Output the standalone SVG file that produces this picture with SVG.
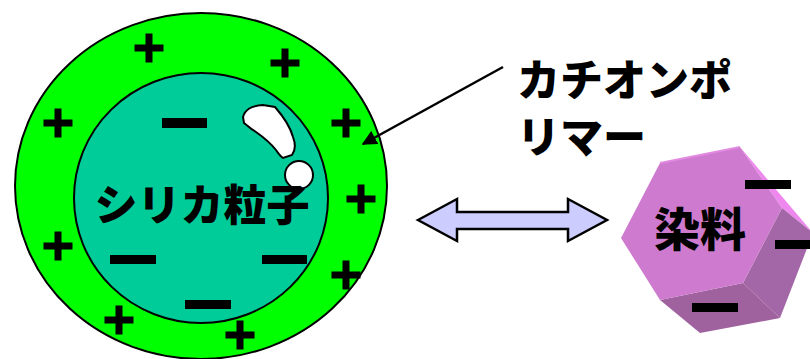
<svg xmlns="http://www.w3.org/2000/svg" width="810" height="359" viewBox="0 0 810 359">
  <defs>
    <style>
      .jp { font-family: "Noto Sans CJK JP", "Noto Sans", sans-serif; font-weight: 900; fill: #000; dominant-baseline: central; }
      .bar { fill: #000; }
      .plus { stroke: #000; stroke-width: 7; fill: none; }
    </style>
    <marker id="head" viewBox="0 0 10 10" refX="9" refY="5" markerWidth="6" markerHeight="6" orient="auto" markerUnits="strokeWidth">
      <path d="M0,0 L10,5 L0,10 z" fill="#000"/>
    </marker>
    <g id="p">
      <path class="plus" d="M-14.5,0 H14.5 M0,-14.5 V14.5"/>
    </g>
  </defs>

  <rect width="810" height="359" fill="#fff"/>

  <!-- silica particle with cationic polymer shell -->
  <g id="silica">
    <ellipse cx="201" cy="186" rx="186" ry="173" fill="#00FF00" stroke="#000" stroke-width="2"/>
    <ellipse cx="201" cy="198" rx="127" ry="125" fill="#00CC99" stroke="#000" stroke-width="2"/>
    <path d="M243,117 C245,110 250,106 263,105 L275,107 C282,115 290,126 293,137 C296,145 295,151 292,155 L283,158 C280,156 278,153 276,150 C272,145 266,139 256,132 C251,129 249,127 249,127 L244,123 Z" fill="#fff" stroke="#000" stroke-width="2"/>
    <circle cx="299" cy="175" r="14" fill="#fff" stroke="#000" stroke-width="2"/>
    <!-- positive charges on shell -->
    <use href="#p" x="149" y="48"/>
    <use href="#p" x="285" y="63"/>
    <use href="#p" x="58" y="123"/>
    <use href="#p" x="346" y="123"/>
    <use href="#p" x="361" y="199"/>
    <use href="#p" x="58" y="246"/>
    <use href="#p" x="346" y="275"/>
    <use href="#p" x="119" y="320"/>
    <use href="#p" x="240" y="335"/>
    <!-- negative charges on core -->
    <rect class="bar" x="162" y="118" width="45" height="10"/>
    <rect class="bar" x="110" y="255" width="46" height="9"/>
    <rect class="bar" x="262" y="255" width="45" height="9"/>
    <rect class="bar" x="185" y="300" width="46" height="9"/>
    <text class="jp" x="202" y="202" font-size="43" text-anchor="middle">シリカ粒子</text>
  </g>

  <!-- cationic polymer label -->
  <g id="label">
    <text class="jp" x="517" y="77" font-size="43">カチオンポ</text>
    <text class="jp" x="517" y="134" font-size="43">リマー</text>
  </g>

  <!-- dye particle -->
  <g id="dye">
    <polygon points="740,147 813,233 782,208" fill="#EE88EE"/>
    <polygon points="782,208 813,233 780,318 743,283" fill="#A366A6"/>
    <polygon points="660,300 743,283 780,318 700,333" fill="#A0629F"/>
    <polygon points="660,163 740,147 782,208 743,283 660,300 621,238" fill="#CE7ACE"/>
    <polyline points="660,163 740,147" fill="none" stroke="#E28AE2" stroke-width="2"/>
    <rect class="bar" x="745" y="180" width="46" height="9"/>
    <rect class="bar" x="775" y="240" width="35" height="9"/>
    <rect class="bar" x="692" y="303" width="46" height="9"/>
    <text class="jp" x="700" y="226" font-size="46" text-anchor="middle">染料</text>
  </g>

  <!-- connectors -->
  <g id="connectors">
    <line x1="503" y1="67" x2="363" y2="144" stroke="#000" stroke-width="2.5" marker-end="url(#head)"/>
    <polygon points="418,220 457,199 457,212 568,212 568,199 607,220 568,241 568,229 457,229 457,241" fill="#CCCCFF" stroke="#000" stroke-width="2.5" stroke-linejoin="miter"/>
  </g>
</svg>
